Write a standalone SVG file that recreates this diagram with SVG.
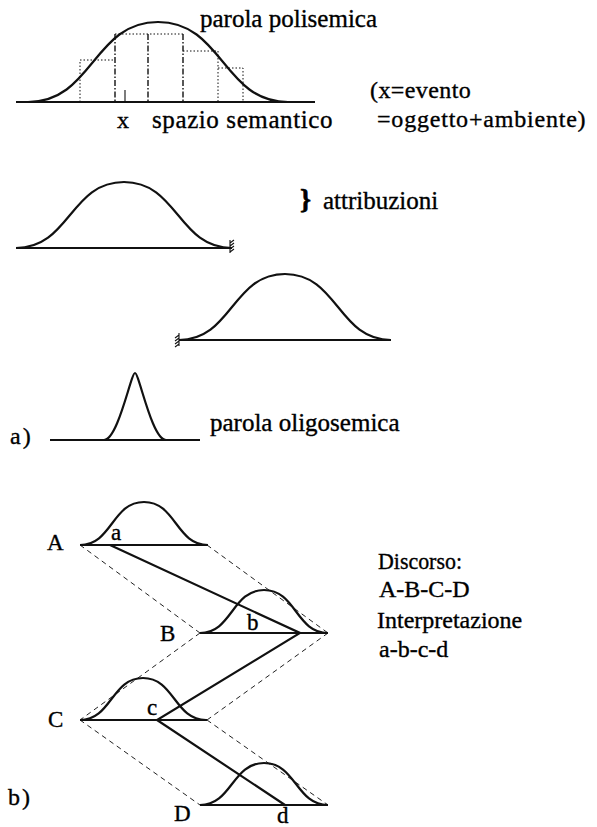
<svg xmlns="http://www.w3.org/2000/svg" width="597" height="827" viewBox="0 0 597 827">
<style>
text{font-family:"Liberation Serif","Times New Roman",serif;font-size:24px;fill:#000;stroke:#000;stroke-width:0.35}
text.lbl{font-size:23px}
text.big{font-size:25px}
.base{stroke:#111;stroke-width:1.8;fill:none}
.dot{stroke:#111;stroke-width:1;stroke-dasharray:1.5 2;fill:none}
.dashdot{stroke:#111;stroke-width:1.4;stroke-dasharray:6 2 1.5 2;fill:none}
.dash{stroke:#222;stroke-width:1;stroke-dasharray:5 4;fill:none}
.thick{stroke:#111;stroke-width:2.2;fill:none;stroke-linejoin:miter}
.hatch{stroke:#111;stroke-width:1.1;fill:none}
</style>
<defs>
<path id="bump" d="M-1,0 C-0.5,0 -0.5,-1 0,-1 C0.5,-1 0.5,0 1,0" fill="none" stroke="#111" stroke-width="2.2" vector-effect="non-scaling-stroke"/>
</defs>

<g id="polisemica">
<path class="base" d="M16,102 H315"/>
<use href="#bump" transform="translate(158,102) scale(130,80)"/>
<path class="dot" d="M80,102 V60 H115 M115,34 H183 M183,51 H218 V102 M218,68 H243 V102"/>
<path class="dashdot" d="M115,34 V102 M148,34 V102 M183,34 V102"/>
<path class="hatch" d="M125,90 V102"/>
<text class="big" x="200" y="27">parola polisemica</text>
<text x="117" y="128">x</text>
<text class="big" x="152" y="128" letter-spacing="0.6">spazio semantico</text>
<text x="370" y="98" letter-spacing="0.4">(x=evento</text>
<text x="377" y="127" letter-spacing="0.8">=oggetto+ambiente)</text>
</g>

<g id="attribuzione-1">
<path class="base" d="M16,248 H230"/>
<use href="#bump" transform="translate(124,248) scale(108,66)"/>
<path class="hatch" d="M230,240 V253 M230,243 l4,-3 M230,246 l4,-3 M230,249 l4,-3 M230,252 l4,-3"/>
</g>

<g id="attribuzioni-label">
<text x="300" y="208" style="font-weight:bold;font-size:28px;stroke-width:0.6">}</text>
<text class="big" x="323" y="209">attribuzioni</text>
</g>

<g id="attribuzione-2">
<path class="base" d="M179,340 H391"/>
<use href="#bump" transform="translate(285,340) scale(106,66)"/>
<path class="hatch" d="M179,333 V346 M179,335 l-4,3 M179,338 l-4,3 M179,341 l-4,3 M179,344 l-4,3"/>
</g>

<g id="oligosemica">
<path class="base" d="M50,440 H200"/>
<path d="M104,440 C118,440 131,373 135,373 C139,373 152,440 166,440" fill="none" stroke="#111" stroke-width="2.2"/>
<text x="10" y="444" letter-spacing="2">a)</text>
<text class="big" x="210" y="431">parola oligosemica</text>
</g>

<g id="connectors">
<path class="dash" d="M80,545 L200,633 M207,545 L328,633 M200,633 L80,720 M328,633 L207,720 M80,720 L200,805 M207,720 L328,805"/>
<path class="thick" d="M110,545 L300,633 L157,720 L285,805"/>
</g>

<g id="node-A">
<path class="base" d="M80,545 H207"/>
<use href="#bump" transform="translate(144,545) scale(64,43)"/>
<text class="lbl" x="47" y="550">A</text>
<text class="lbl" x="111" y="540">a</text>
</g>

<g id="node-B">
<path class="base" d="M200,633 H328"/>
<use href="#bump" transform="translate(264,633) scale(64,43)"/>
<text class="lbl" x="160" y="641">B</text>
<text class="lbl" x="247" y="630">b</text>
</g>

<g id="node-C">
<path class="base" d="M80,720 H207"/>
<use href="#bump" transform="translate(143,720) scale(63,42)"/>
<text class="lbl" x="48" y="727">C</text>
<text class="lbl" x="147" y="715">c</text>
</g>

<g id="node-D">
<path class="base" d="M200,805 H328"/>
<use href="#bump" transform="translate(264,805) scale(64,42)"/>
<text class="lbl" x="174" y="821">D</text>
<text class="lbl" x="277" y="823">d</text>
</g>

<g id="legenda">
<text x="378" y="569" textLength="84" lengthAdjust="spacingAndGlyphs">Discorso:</text>
<text x="379" y="597">A-B-C-D</text>
<text x="377" y="628">Interpretazione</text>
<text x="379" y="657">a-b-c-d</text>
<text x="8" y="805" letter-spacing="2">b)</text>
</g>
</svg>
